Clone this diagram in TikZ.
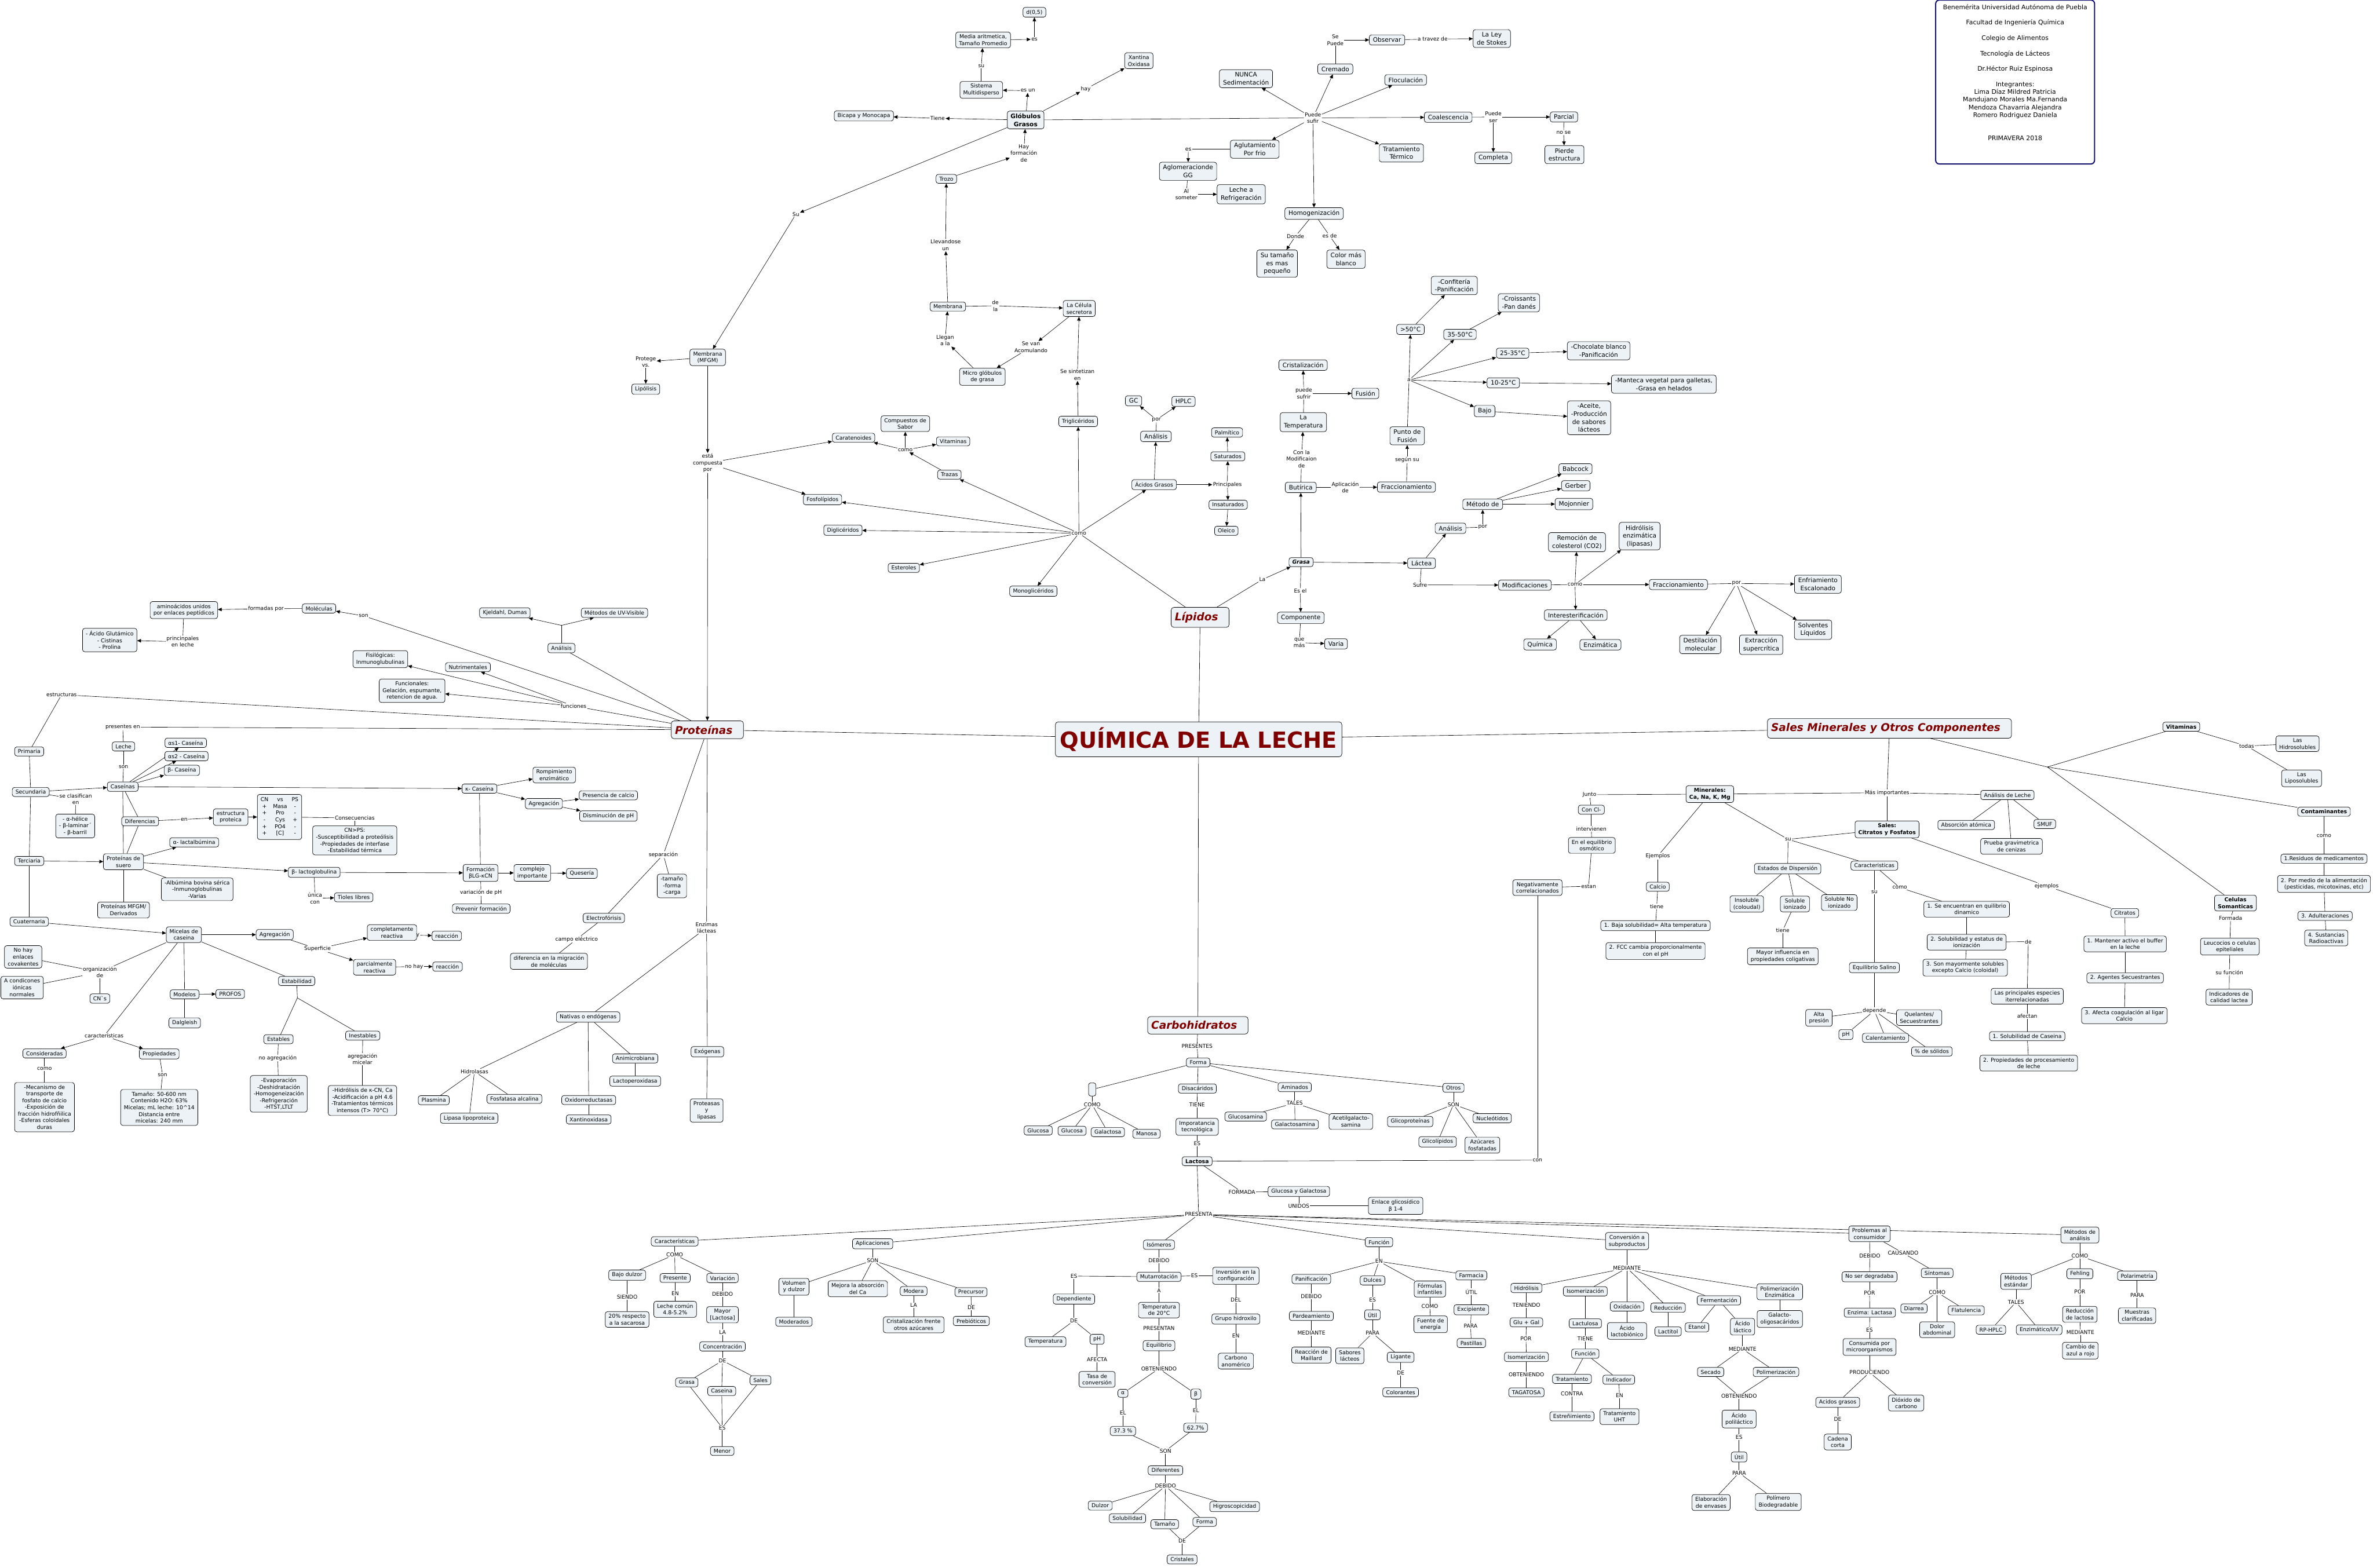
\documentclass[tikz,border=0pt]{standalone}
\usepackage{fontspec}
\setmainfont{DejaVu Sans}[ItalicFont={DejaVu Sans Oblique},BoldItalicFont={DejaVu Sans Bold Oblique}]
\usetikzlibrary{arrows.meta}
\definecolor{boxfill}{RGB}{236,242,245}
\definecolor{catred}{RGB}{128,0,0}
\definecolor{navyb}{RGB}{20,20,110}
\newcommand{\fsm}{\fontsize{5.9}{7.3}\selectfont}
\newcommand{\fmd}{\fontsize{6.7}{8.6}\selectfont}
\newcommand{\flb}{\fontsize{5.8}{7.2}\selectfont}
\newcommand{\fcat}{\fontsize{11.7}{14}\selectfont\bfseries\itshape}
\newcommand{\fttl}{\fontsize{24.3}{28}\selectfont\bfseries}
\newcommand{\finfo}{\fontsize{6.9}{8.4}\selectfont}
\pgfdeclarelayer{bg}
\pgfsetlayers{bg,main}

\begin{document}
\begin{tikzpicture}[
  x=1.6515pt,y=-1.6515pt,
  line width=0.45pt,
  cb/.style={draw, rounded corners=2.5pt, fill=boxfill, align=center,
    inner xsep=3.6pt, inner ysep=2.7pt, font=\fsm},
  cbm/.style={cb, font=\fmd, inner xsep=4pt, inner ysep=3pt},
  cbb/.style={cb, font=\fsm\bfseries},
  lb/.style={align=center, inner sep=0.6pt, font=\flb},
  cat/.style={draw, rounded corners=3pt, fill=boxfill, font=\fcat, text=catred,
    inner xsep=4pt, inner ysep=5pt, execute at end node=\hspace*{8pt}},
  ttl/.style={draw, rounded corners=3pt, fill=boxfill, font=\fttl, text=catred,
    inner xsep=5pt, inner ysep=6pt},
  ar/.style={-{Triangle[length=4.2pt,width=3.8pt]}}
]
\useasboundingbox (0,0) rectangle (1568,1036);

% centre and main branches
\node[ttl] (quim) at (792,488.6) {QUÍMICA DE LA LECHE};
\node[cat] (prot) at (467.4,482.3) {Proteínas};
\node[cat] (lip) at (793,408) {Lípidos};
\node[cat] (carb) at (791.5,677.6) {Carbohidratos};
\node[cat] (sales) at (1248.5,481.4) {Sales Minerales y Otros Componentes};

% info box
\node[draw=navyb, line width=1.3pt, rounded corners=4pt, minimum width=173.4pt,
  minimum height=178.9pt] (info) at (1331.5,54.2) {};
\node[font=\finfo, align=center, anchor=north, inner sep=0pt] (infotxt)
  at ([yshift=-5.2pt]info.north) {Benemérita Universidad Autónoma de Puebla\\[8.4pt]
  Facultad de Ingeniería Química\\[8.4pt] Colegio de Alimentos\\[8.4pt]
  Tecnología de Lácteos\\[8.4pt] Dr.Héctor Ruiz Espinosa\\[8.4pt]
  Integrantes:\\ Lima Díaz Mildred Patricia\\ Mandujano Morales Ma.Fernanda\\
  Mendoza Chavarria Alejandra\\ Romero Rodriguez Daniela\\[17.2pt] PRIMAVERA 2018};

% lipids: fat globules
\node[cb] (d05) at (683.5,8.1) {d(0,5)};
\node[cb] (media) at (649.6,26.4) {Media aritmetica,\\Tamaño Promedio};
\node[lb] (lEs1) at (683.5,26) {es};
\node[cb] (sistema) at (648.4,59.4) {Sistema\\Multidisperso};
\node[lb] (lSu1) at (648.4,43.8) {su};
\node[lb] (lEsun) at (679.2,59.9) {es un};
\node[cb, font=\fmd\bfseries] (glob) at (677.7,79.3) {Glóbulos\\Grasos};
\node[cb] (xantina) at (752.5,40.1) {Xantina\\Oxidasa};
\node[lb] (lHay) at (717.4,58.8) {hay};
\node[cb] (bicapa) at (570.8,76.6) {Bicapa y Monocapa};
\node[lb] (lTiene1) at (619.5,78.2) {Tiene};
\node[lb] (lHayf) at (676.5,101.3) {Hay\\formación\\de};
\node[cb] (trozo) at (625.3,118.2) {Trozo};
\node[lb] (lLlev) at (624.8,162) {Llevandose\\un};
\node[cb] (memb) at (626.3,202.6) {Membrana};
\node[cb] (celula) at (713.1,203.9) {La Célula\\secretora};
\node[lb] (lDela) at (657.7,202.1) {de\\la};
\node[cb] (micro) at (649.1,249) {Micro glóbulos\\de grasa};
\node[lb] (lLleg) at (624.5,225) {Llegan\\a la};
\node[lb] (lSevan) at (681.2,229.4) {Se van\\Acomulando};
\node[cb] (trigli) at (712.4,278.5) {Triglicéridos};
\node[lb] (lSesint) at (711.9,247.7) {Se sintetizan\\en};
\node[lb] (lSu2) at (525.9,141.6) {Su};
\node[cb] (mfgm) at (467.6,236.2) {Membrana\\(MFGM)};
\node[lb] (lProt) at (426.7,239.1) {Protege\\vs.};
\node[cb] (lipolisis) at (426.7,257.2) {Lipólisis};
\node[lb] (lComp) at (467.6,306) {está\\compuesta\\por};
\node[cb] (carat) at (564,289.3) {Caratenoides};
\node[cb] (fosfo) at (543.5,330.2) {Fosfolípidos};
\node[cb] (sabor) at (598.2,280) {Compuestos de\\Sabor};
\node[cb] (vitam1) at (629.8,291.7) {Vitaminas};
\node[lb] (lComo1) at (598.2,297.4) {como};
\node[cb] (trazas) at (627.3,313.7) {Trazas};
\node[cbm] (gc) at (749,264.9) {GC};
\node[cbm] (hplc) at (782,265.3) {HPLC};
\node[lb] (lPor1) at (764.1,277.4) {por};
\node[cbm] (anal1) at (763.8,288.4) {Análisis};
\node[cb] (acgr) at (762.6,320.3) {Ácidos Grasos};
\node[lb] (lComoL) at (712.9,352.4) {como};
\node[cb] (digli) at (557,350.4) {Diglicéridos};
\node[cb] (ester) at (597.2,375.3) {Esteroles};
\node[cb] (mono) at (682.8,390.7) {Monoglicéridos};

% lipids: instability
\node[lb] (lSep) at (882.3,26.4) {Se\\Puede};
\node[cbm] (cremado) at (882.3,45.6) {Cremado};
\node[cbm] (observar) at (916.5,26.4) {Observar};
\node[lb] (lAtrav) at (946.6,25.8) {a travez de};
\node[cbm] (stokes) at (985.7,25.5) {La Ley\\de Stokes};
\node[cbm] (nunca) at (823.3,52) {NUNCA\\Sedimentación};
\node[cbm] (flocul) at (928.8,52.8) {Floculación};
\node[lb] (lPsuf) at (867.5,77.9) {Puede\\sufir};
\node[cbm] (coal) at (956.9,77.5) {Coalescencia};
\node[lb] (lPser) at (986.7,77.3) {Puede\\ser};
\node[cbm] (parcial) at (1033.4,77.3) {Parcial};
\node[cbm] (completa) at (986.7,104.4) {Completa};
\node[lb] (lNose) at (1033.2,87.6) {no se};
\node[cbm] (pierde) at (1033.7,102.2) {Pierde\\estructura};
\node[cbm] (termico) at (926,101.1) {Tratamiento\\Térmico};
\node[cbm] (aglut) at (829.1,98.6) {Aglutamiento\\Por frio};
\node[lb] (lEs2) at (785.2,98.6) {es};
\node[cbm] (aglom) at (785,113.2) {Aglomeracionde\\GG};
\node[lb] (lAlsom) at (783.9,128.4) {Al\\someter};
\node[cbm] (refrig) at (820.1,128.4) {Leche a\\Refrigeración};
\node[cbm] (homog) at (868.3,141.1) {Homogenización};
\node[lb] (lDonde) at (856,156.1) {Donde};
\node[lb] (lEsde) at (878.6,155.9) {es de};
\node[cbm] (tamano) at (843.9,174.2) {Su tamaño\\es mas\\pequeño};
\node[cbm] (colorb) at (889.4,171.3) {Color más\\blanco};

% lipids: melting and fractions
\node[cbm] (confit) at (960.9,188.7) {-Confitería\\-Panificación};
\node[cbm] (croiss) at (1003.6,200.1) {-Croissants\\-Pan danés};
\node[cbm] (t50) at (932,217.7) {>50°C};
\node[cbm] (t3550) at (964.7,221) {35-50°C};
\node[cbm] (t2535) at (999.5,233.4) {25-35°C};
\node[cbm] (choco) at (1056.3,231.8) {-Chocolate blanco\\-Panificación};
\node[cbm] (t1025) at (993.3,253) {10-25°C};
\node[cbm] (manteca) at (1099.4,253.9) {-Manteca vegetal para galletas,\\-Grasa en helados};
\node[cbm] (bajo) at (981,271.7) {Bajo};
\node[cbm] (aceite) at (1050,276.1) {-Aceite,\\-Producción\\de sabores\\lácteos};
\node[lb] (lA) at (931,251.2) {a};
\node[cbm] (punto) at (929.8,288) {Punto de\\Fusión};
\node[lb] (lSegun) at (929.8,304) {según su};
\node[cbm] (fracc1) at (929.3,321.9) {Fraccionamiento};
\node[cbm] (cristal) at (861,241.3) {Cristalización};
\node[lb] (lPsufr) at (861.5,260) {puede\\sufrir};
\node[cbm] (fusion) at (902.2,260) {Fusión};
\node[cbm] (temp) at (861.2,279) {La\\Temperatura};
\node[lb] (lConla) at (860,303.4) {Con la\\Modificaion\\de};
\node[cbm] (butir) at (859.5,322.1) {Butírica};
\node[lb] (lAplic) at (888.9,322.1) {Aplicación\\de};
\node[cb] (palmit) at (810.8,285.8) {Palmítico};
\node[cb] (satur) at (811.3,301.6) {Saturados};
\node[lb] (lPrinc) at (811,320.3) {Principales};
\node[cb] (insat) at (811.5,333.6) {Insaturados};
\node[cb] (oleico) at (810.3,350.8) {Oleico};
\node[cbm] (metodo) at (979.7,333.3) {Método de};
\node[cbm] (babcock) at (1041,309.8) {Babcock};
\node[cbm] (gerber) at (1041.2,321) {Gerber};
\node[cbm] (mojon) at (1040,333.1) {Mojonnier};
\node[cbm] (anal2) at (958.4,349.1) {Análisis};
\node[lb] (lPor2) at (979.7,348.4) {por};
\node[cb, font=\fsm\bfseries\itshape] (grasa) at (859.7,371.5) {Grasa};
\node[cbm] (lactea) at (939.3,372.2) {Láctea};
\node[lb] (lLa) at (834.1,383) {La};
\node[lb] (lEsel) at (859.2,390.5) {Es el};
\node[cbm] (compon) at (859.5,408.3) {Componente};
\node[lb] (lQuemas) at (858.5,424.8) {que\\más};
\node[cbm] (varia) at (882.8,425.5) {Varia};
\node[lb] (lSufre) at (938.3,386.5) {Sufre};
\node[cbm] (modif) at (1007.6,386.7) {Modificaciones};
\node[lb] (lComo2) at (1040.7,386.3) {como};
\node[cbm] (remoc) at (1042,358.3) {Remoción de\\colesterol (CO2)};
\node[cbm] (hidrol) at (1083.4,354.3) {Hidrólisis\\enzimática\\(lipasas)};
\node[cbm] (fracc2) at (1109,386.3) {Fraccionamiento};
\node[cbm] (inter) at (1041.2,406.5) {Interesterificación};
\node[cbm] (quimi) at (1017.6,425.9) {Química};
\node[cbm] (enzim) at (1057.5,426.1) {Enzimática};
\node[lb] (lPor3) at (1147.4,385.6) {por};
\node[cbm] (destil) at (1123.5,425.9) {Destilación\\molecular};
\node[cbm] (extrac) at (1163.7,426.1) {Extracción\\supercrítica};
\node[cbm] (enfri) at (1201.2,386.1) {Enfriamiento\\Escalonado};
\node[cbm] (solv) at (1198,416.2) {Solventes\\Líquidos};

% salts and other components
\node[lb] (lJunto) at (1050.3,525.2) {Junto};
\node[cbb] (miner) at (1129.8,524.8) {Minerales:\\Ca, Na, K, Mg};
\node[cb] (concl) at (1051.5,535.1) {Con Cl-};
\node[lb] (lInterv) at (1051.5,547.7) {intervienen};
\node[cb] (osmot) at (1051.8,558.7) {En el equilibrio\\osmótico};
\node[lb] (lEstan) at (1049.7,585.7) {estan};
\node[cb] (negat) at (1015.9,586.6) {Negativamente\\correlacionados};
\node[lb] (lEjem) at (1095.4,565.7) {Ejemplos};
\node[cb] (calcio) at (1095.4,586) {Calcio};
\node[lb] (lTiene2) at (1094.7,599) {tiene};
\node[cb] (baja) at (1093.9,611.7) {1. Baja solubilidad= Alta temperatura};
\node[cb] (fcc) at (1093.9,628.5) {2. FCC cambia proporcionalmente\\con el pH};
\node[lb] (lSu3) at (1181.5,554.7) {su};
\node[cb] (estados) at (1181.2,574.1) {Estados de Dispersión};
\node[cb] (insol) at (1154.2,597.4) {Insoluble\\(coloudal)};
\node[cb] (solion) at (1186,597.4) {Soluble\\ionizado};
\node[cb] (solno) at (1215.3,596.5) {Soluble No\\ionizado};
\node[lb] (lTiene3) at (1178,614.8) {tiene};
\node[cb] (mayorinf) at (1178,632) {Mayor influencia en\\propiedades coligativas};
\node[cbb] (vitam2) at (1441.3,480.3) {Vitaminas};
\node[lb] (lTodas) at (1484.5,493) {todas};
\node[cb] (hidros) at (1518.1,491.5) {Las\\Hidrosolubles};
\node[cb] (liposol) at (1520.8,514.4) {Las\\Liposolubles};
\coordinate (hubS) at (1352.8,506.9);
\node[cbb] (contam) at (1535.6,536.4) {Contaminantes};
\node[lb] (lComo3) at (1535.6,552.5) {como};
\node[cb] (resid) at (1535.6,567.5) {1.Residuos de medicamentos};
\node[cb] (alim) at (1535.6,584.2) {2. Por medio de la alimentación\\(pesticidas, micotoxinas, etc)};
\node[cb] (adult) at (1536.3,605.3) {3. Adulteraciones};
\node[cb] (radio) at (1537.1,619.9) {4. Sustancias\\Radioactivas};
\node[cbb] (celul) at (1477.1,596.8) {Celulas\\Somanticas};
\node[lb] (lFormada) at (1473.9,606.7) {Formada};
\node[cb] (leuco) at (1473.4,625.6) {Leucocios o celulas\\epiteliales};
\node[lb] (lSufunc) at (1473.1,642.5) {su función};
\node[cb] (indic) at (1472.9,659) {Indicadores de\\calidad lactea};
\node[lb] (lMasimp) at (1246.9,523.9) {Más importantes};
\node[cb] (analech) at (1326.4,525.4) {Análisis de Leche};
\node[cb] (absor) at (1299.2,545.2) {Absorción atómica};
\node[cb] (smuf) at (1351.1,544.6) {SMUF};
\node[cb] (prueba) at (1329.1,559.3) {Prueba gravimetrica\\de cenizas};
\node[cbb] (salescf) at (1246.9,548.1) {Sales:\\Citratos y Fosfatos};
\node[cb] (caract2) at (1238.5,572.1) {Caracteristicas};
\node[lb] (lSu4) at (1238.5,589.5) {su};
\node[cb] (eqsal) at (1238.5,639.5) {Equilibrio Salino};
\node[lb] (lComo4) at (1255.3,586.6) {como};
\node[cb] (seenc) at (1299.5,600.9) {1. Se encuentran en quilibrio\\dinamico};
\node[cb] (solest) at (1299.5,622.7) {2. Solubilidad y estatus de\\ionización};
\node[cb] (sonmay) at (1298.5,639.5) {3. Son mayormente solubles\\excepto Calcio (coloidal)};
\node[lb] (lDe1) at (1340.2,622.3) {de};
\node[cb] (princ) at (1339.5,658.4) {Las principales especies\\iterrelacionadas};
\node[lb] (lAfectan) at (1339.5,671.6) {afectan};
\node[cb] (solcas) at (1339.5,684.8) {1. Solubilidad de Caseina};
\node[cb] (propproc) at (1340.5,702.6) {2. Propiedades de procesamiento\\de leche};
\node[lb] (lEjem2) at (1352.3,585.5) {ejemplos};
\node[cb] (citr) at (1404,603.4) {Citratos};
\node[cb] (mant) at (1404.2,623.8) {1. Mantener activo el buffer\\en la leche};
\node[cb] (agent) at (1404.2,646.3) {2. Agentes Secuestrantes};
\node[cb] (afect) at (1403.7,671.2) {3. Afecta coagulación al ligar\\Calcio};
\node[lb] (lDepende) at (1238.5,667.9) {depende};
\node[cb] (alta) at (1201.9,672.7) {Alta\\presión};
\node[cb] (ph1) at (1219.7,683.7) {pH};
\node[cb] (calent) at (1245.9,685.9) {Calentamiento};
\node[cb] (quel) at (1268.1,672.5) {Quelantes/\\Secuestrantes};
\node[cb] (solid) at (1276.5,694.9) {\% de sólidos};

% carbohydrates
\node[lb] (lPresentes) at (791,691.4) {PRESENTES};
\node[cb] (forma) at (791.7,702.2) {Forma};
\node[cb, minimum width=8pt, minimum height=14.5pt, inner sep=0pt] (mono0) at (721.7,720) {};
\node[lb] (lComo5) at (721.7,730.1) {COMO};
\node[cb] (gluc1) at (686,747.1) {Glucosa};
\node[cb] (gluc2) at (708.4,747.3) {Glucosa};
\node[cb] (galac) at (732,748.2) {Galactosa};
\node[cb] (manosa) at (757.6,749.3) {Manosa};
\node[cb] (disac) at (791.2,719.4) {Disacáridos};
\node[lb] (lTiene4) at (791,730) {TIENE};
\node[cb] (import) at (791,744.7) {Imporatancia\\tecnológica};
\node[lb] (lEs3) at (791,755.9) {ES};
\node[cbb] (lactosa) at (791,767.4) {Lactosa};
\node[cb] (amin) at (855.5,718.5) {Aminados};
\node[lb] (lTales1) at (855.5,729) {TALES};
\node[cb] (glcsam) at (823.1,737.9) {Glucosamina};
\node[cb] (galsam) at (855.7,743.1) {Galactosamina};
\node[cb] (acetil) at (892.6,741.2) {Acetilgalacto-\\samina};
\node[cb] (otros) at (960.4,718.9) {Otros};
\node[lb] (lSon1) at (960.4,729.9) {SON};
\node[cb] (glicop) at (931.8,741.2) {Glicoproteínas};
\node[cb] (nucleo) at (986,739) {Nucleótidos};
\node[cb] (glicol) at (949.9,754.6) {Glicolípidos};
\node[cb] (azuc) at (979.5,756.8) {Azúcares\\fosfatadas};
\node[lb] (lCon) at (1015.9,766.7) {con};
\node[lb] (lFormada2) at (820.6,787.8) {FORMADA};
\node[cb] (glugalac) at (858.2,787.4) {Glucosa y Galactosa};
\node[lb] (lUnidos) at (858.2,796.9) {UNIDOS};
\node[cb] (enlace) at (922.2,796.9) {Enlace glicosídico\\β 1-4};
\node[lb] (lPresenta) at (792,802.6) {PRESENTA};
\node[cb] (caract3) at (445.8,820.4) {Características};
\node[lb] (lComo6) at (445.8,829.2) {COMO};
\node[cb] (bajod) at (414.4,842.7) {Bajo dulzor};
\node[cb] (presente) at (446.1,844.6) {Presente};
\node[cb] (variac) at (477.4,844.6) {Variación};
\node[lb] (lSiendo) at (414.4,857) {SIENDO};
\node[cb] (sacar) at (414.4,872) {20\% respecto\\a la sacarosa};
\node[lb] (lEn1) at (446.1,854.8) {EN};
\node[cb] (lechec) at (446.1,865.3) {Leche común\\4.8-5.2\%};
\node[lb] (lDebido1) at (477.4,855.2) {DEBIDO};
\node[cb] (mayorl) at (477.4,868.9) {Mayor\\{[Lactosa]}};
\node[lb] (lLa1) at (477.4,880.5) {LA};
\node[cb] (concent) at (477.4,889.8) {Concentración};
\node[lb] (lDe2) at (477.4,899.2) {DE};
\node[cb] (grasa2) at (453.8,913.6) {Grasa};
\node[cb] (caseina2) at (476.9,919.3) {Caseina};
\node[cb] (sales2) at (502.5,912.2) {Sales};
\node[lb] (lEs4) at (477.2,943.5) {ES};
\node[cb] (menor) at (477.2,958.9) {Menor};
\node[cb] (aplic) at (576.6,822) {Aplicaciones};
\node[lb] (lSon2) at (576.6,833) {SON};
\node[cb] (volum) at (524.6,850.4) {Volumen\\y dulzor};
\node[cb] (mejora) at (566.8,851.7) {Mejora la absorción\\del Ca};
\node[cb] (modera) at (603.7,853.2) {Modera};
\node[cb] (precur) at (641.6,853.9) {Precursor};
\node[cb] (moder) at (524.6,873.5) {Moderados};
\node[lb] (lLa2) at (603.7,862.7) {LA};
\node[cb] (cristal2) at (603.7,875.5) {Cristalización frente\\otros azúcares};
\node[lb] (lDe3) at (641.8,864.2) {DE};
\node[cb] (prebio) at (641.8,873) {Prebióticos};
\node[cb] (isom) at (765.8,822.6) {Isómeros};
\node[lb] (lDebido2) at (765.8,833) {DEBIDO};
\node[cb] (mutarr) at (765.8,843.8) {Mutarrotación};
\node[lb] (lEs5) at (709.6,843.3) {ES};
\node[cb] (depend) at (709.6,858.5) {Dependiente};
\node[lb] (lDe4) at (709.6,872.8) {DE};
\node[cb] (temp2) at (690.8,886.7) {Temperatura};
\node[cb] (ph2) at (724.9,885.1) {pH};
\node[lb] (lAfecta) at (724.9,898.4) {AFECTA};
\node[cb] (tasa) at (724.9,911.6) {Tasa de\\conversión};
\node[lb] (lA2) at (765.8,852.8) {A};
\node[cb] (temp20) at (765.8,865.8) {Temperatura\\de 20°C};
\node[lb] (lPresentan) at (765.8,877.7) {PRESENTAN};
\node[cb] (equil2) at (765.8,889.3) {Equilibrio};
\node[lb] (lObt1) at (765.8,904.5) {OBTENIENDO};
\node[cb] (alpha) at (742,920.8) {α};
\node[lb] (lEl1) at (742,933.8) {EL};
\node[cb] (p373) at (742,945.7) {37.3 \%};
\node[cb] (beta) at (790.2,921.3) {β};
\node[lb] (lEl2) at (790.2,932.3) {EL};
\node[cb] (p627) at (790,943.5) {62.7\%};
\node[lb] (lSon3) at (770.1,958.9) {SON};
\node[cb] (difer) at (770.1,971.7) {Diferentes};
\node[lb] (lDebido3) at (770.1,982) {DEBIDO};
\node[cb] (dulzor) at (727,995) {Dulzor};
\node[cb] (solub) at (745,1003.4) {Solubilidad};
\node[cb] (tamano2) at (769.6,1007.3) {Tamaño};
\node[cb] (higros) at (815.8,995.7) {Higroscopicidad};
\node[cb] (forma2) at (796,1005.8) {Forma};
\node[lb] (lDe5) at (781.1,1018.3) {DE};
\node[cb] (cristales) at (781.1,1030.6) {Cristales};
\node[lb] (lEs6) at (789.2,843.1) {ES};
\node[cb] (invers) at (816.6,843.1) {Inversión en la\\configuración};
\node[lb] (lDel) at (816.6,859.2) {DEL};
\node[cb] (grupoh) at (816.6,871.7) {Grupo hidroxilo};
\node[lb] (lEn2) at (816.6,883) {EN};
\node[cb] (carbono) at (816.6,899.5) {Carbono\\anomérico};
\node[cb] (funcion) at (911.2,820.9) {Función};
\node[lb] (lEn3) at (911.2,833.6) {EN};
\node[cb] (panif) at (866.5,845.3) {Panificación};
\node[cb] (dulces) at (906.9,846.2) {Dulces};
\node[cb] (formul) at (944.8,851.9) {Fórmulas\\infantiles};
\node[cb] (farmac) at (972.2,842.9) {Farmacia};
\node[lb] (lDebido4) at (866.5,856.7) {DEBIDO};
\node[cb] (pardea) at (866.5,869.7) {Pardeamiento};
\node[lb] (lMed1) at (866.5,881) {MEDIANTE};
\node[cb] (maillard) at (866.5,895.5) {Reacción de\\Maillard};
\node[lb] (lEs7) at (906.9,859) {ES};
\node[cb] (util1) at (906.9,868.9) {Útil};
\node[lb] (lPara1) at (906.9,881) {PARA};
\node[cb] (sabores) at (891.9,896) {Sabores\\lácteos};
\node[cb] (ligante) at (925.5,897) {Ligante};
\node[lb] (lDe6) at (925.5,907.2) {DE};
\node[cb] (colorant) at (925.5,920.1) {Colorantes};
\node[lb] (lComo7) at (944.8,863.4) {COMO};
\node[cb] (fuente) at (945.3,875.2) {Fuente de\\energía};
\node[lb] (lUtil) at (972.2,853.7) {ÚTIL};
\node[cb] (excip) at (972.2,865.6) {Excipiente};
\node[lb] (lPara2) at (971.7,876.3) {PARA};
\node[cb] (pastill) at (972.2,887.6) {Pastillas};
\node[cb] (conv) at (1075.1,820.2) {Conversión a\\subproductos};
\node[lb] (lMed2) at (1075.1,838) {MEDIANTE};
\node[cb] (hidrol2) at (1008.6,851.2) {Hidrólisis};
\node[cb] (isomer1) at (1047.5,853.4) {Isomerización};
\node[cb] (oxid) at (1075.1,863.4) {Oxidación};
\node[cb] (reduc) at (1102.2,864.2) {Reducción};
\node[cb] (ferment) at (1135.8,859.4) {Fermentación};
\node[cb] (polienz) at (1176,853.7) {Polimerización\\Enzimática};
\node[cb] (galoli) at (1176,871.7) {Galacto-\\oligosacáridos};
\node[lb] (lTeniendo) at (1008.6,862.5) {TENIENDO};
\node[cb] (glugal) at (1008.6,873.9) {Glu + Gal};
\node[lb] (lPor4) at (1008.3,884.9) {POR};
\node[cb] (isomer2) at (1008.6,896.8) {Isomerización};
\node[lb] (lObt2) at (1008.6,908.3) {OBTENIENDO};
\node[cb] (tagat) at (1008.6,920.2) {TAGATOSA};
\node[cb] (lactul) at (1047.5,874.6) {Lactulosa};
\node[lb] (lTiene5) at (1047.5,884.7) {TIENE};
\node[cb] (funcion2) at (1047.5,894.6) {Función};
\node[cb] (tratam2) at (1038.7,911.3) {Tratamiento};
\node[lb] (lContra) at (1038.7,921) {CONTRA};
\node[cb] (estren) at (1038.7,936) {Estreñimiento};
\node[cb] (indicad) at (1069.6,911.8) {Indicador};
\node[lb] (lEn4) at (1070.1,922.4) {EN};
\node[cb] (uht) at (1070.1,936.2) {Tratamiento\\UHT};
\node[cb] (aclacto) at (1075.1,879.6) {Ácido\\lactobiónico};
\node[cb] (lactitol) at (1102.2,879.9) {Lactitol};
\node[cb] (etanol) at (1121.3,877.2) {Etanol};
\node[cb] (aclact) at (1151.4,876.8) {Ácido\\láctico};
\node[lb] (lMed3) at (1151.4,891.5) {MEDIANTE};
\node[cb] (secado) at (1130.3,906.7) {Secado};
\node[cb] (polimer) at (1173.5,906.7) {Polimerización};
\node[lb] (lObt3) at (1149.1,922.6) {OBTENIENDO};
\node[cb] (acpoli) at (1149.1,937.8) {Ácido\\poliláctico};
\node[lb] (lEs8) at (1149.1,949.7) {ES};
\node[cb] (util2) at (1149.1,962.9) {Útil};
\node[lb] (lPara3) at (1149.1,973.4) {PARA};
\node[cb] (elabor) at (1130.6,993) {Elaboración\\de envases};
\node[cb] (polimero) at (1175,992.6) {Polímero\\Biodegradable};
\node[cb] (problem) at (1235.3,815.4) {Problemas al\\consumidor};
\node[lb] (lDebido5) at (1235.5,829.9) {DEBIDO};
\node[lb] (lCausando) at (1257.5,828.1) {CAUSANDO};
\node[cb] (noser) at (1235.3,843.8) {No ser degradaba};
\node[lb] (lPor5) at (1235.3,854.5) {POR};
\node[cb] (enzlact) at (1235.5,867.5) {Enzima: Lactasa};
\node[lb] (lEs9) at (1235.3,878.8) {ES};
\node[cb] (consum) at (1235.3,890.2) {Consumida por\\microorganismos};
\node[lb] (lProduc) at (1235.3,907) {PRODUCIENDO};
\node[cb] (acgr2) at (1214.3,926.8) {Acidos grasos};
\node[cb] (dioxido) at (1259.5,927.2) {Dióxido de\\carbono};
\node[lb] (lDe7) at (1214.3,937.8) {DE};
\node[cb] (cadena) at (1214.3,953) {Cadena\\corta};
\node[cb] (sintom) at (1280,841.3) {Síntomas};
\node[lb] (lComo8) at (1280,854.1) {COMO};
\node[cb] (diarrea) at (1264.7,864.7) {Diarrea};
\node[cb] (flatul) at (1299.2,866) {Flatulencia};
\node[cb] (dolor) at (1280,878.8) {Dolor\\abdominal};
\node[cb] (metan) at (1374.3,816.2) {Métodos de\\análisis};
\node[lb] (lComo9) at (1374.3,830.1) {COMO};
\node[cb] (metest) at (1332.1,846.8) {Métodos\\estándar};
\node[lb] (lTales2) at (1332.1,860.5) {TALES};
\node[cb] (rphplc) at (1315.5,878.8) {RP-HPLC};
\node[cb] (enzuv) at (1347.4,878.8) {Enzimático/UV};
\node[cb] (fehling) at (1374.3,841.8) {Fehling};
\node[lb] (lPor6) at (1374.3,853.7) {POR};
\node[cb] (reduclac) at (1374.3,868.6) {Reducción\\de lactosa};
\node[lb] (lMed4) at (1374.6,880.5) {MEDIANTE};
\node[cb] (cambio) at (1374.6,892.6) {Cambio de\\azul a rojo};
\node[cb] (polari) at (1412.1,843.1) {Polarimetría};
\node[lb] (lPara4) at (1412.1,856.1) {PARA};
\node[cb] (muestras) at (1412.1,869.5) {Muestras\\clarificadas};

% proteins
\node[cb] (molec) at (210.8,402.1) {Moléculas};
\node[lb] (lFormadas) at (175.7,402.3) {formadas por};
\node[cb] (aminoac) at (121.5,403.2) {aminoácidos unidos\\por enlaces peptídicos};
\node[lb] (lSon4) at (240.2,407) {son};
\node[lb] (lPrinc2) at (120.7,424.1) {princinpales\\en leche};
\node[cb] (acglut) at (72.5,423) {- Ácido Glutámico\\- Cistinas\\- Prolina};
\node[cb] (kjeld) at (333.6,405) {Kjeldahl, Dumas};
\node[cb] (metuv) at (406,405) {Métodos de UV-Visible};
\coordinate (hubA) at (371,413.3);
\node[cb] (anal3) at (371,428.3) {Análisis};
\node[cb] (fisiol) at (251.3,435.6) {Fisilógicas:\\Inmunoglubulinas};
\node[cb] (nutrim) at (309.2,440.9) {Nutrimentales};
\node[cb] (funcnl) at (272.3,456.5) {Funcionales:\\Gelación, espumante,\\retencion de agua.};
\node[lb] (lFunc) at (379,466.6) {funciones};
\node[lb] (lEstruct) at (40.7,459.1) {estructuras};
\node[cb] (primaria) at (19.3,496.6) {Primaria};
\node[lb] (lPresentes2) at (81.1,480.5) {presentes en};
\node[cb] (leche1) at (81.6,493.3) {Leche};
\node[lb] (lSon5) at (81.6,506.7) {son};
\node[cb] (caseinas) at (81.1,519.9) {Caseínas};
\node[cb] (as1) at (122.7,490.9) {αs1- Caseína};
\node[cb] (as2) at (123.2,499.7) {αs2 - Caseína};
\node[cb] (bcas) at (120.2,509.1) {β- Caseína};
\node[cb] (secund) at (20.3,523.4) {Secundaria};
\node[lb] (lClasif) at (50,528) {se clasifican\\en};
\node[cb] (helices) at (49.7,545.9) {- α-hélice\\- β-laminar´\\- β-barril};
\node[cb] (diferp) at (92.6,542.8) {Diferencias};
\node[lb] (lEn5) at (121.7,541.5) {en};
\node[cb] (estprot) at (152.4,540) {estructura\\proteica};
\node[cb] (tabla) at (184.7,539.9) {\begin{tabular}{@{}c@{\hspace{5pt}}c@{\hspace{5pt}}c@{}}
  CN & vs & PS\\ + & Masa & -\\ + & Pro & -\\ - & Cys & +\\ + & PO4 & -\\ + & [C] & -\end{tabular}};
\node[lb] (lConsec) at (234.4,540.6) {Consecuencias};
\node[cb] (cnps) at (234.4,555.4) {CN>PS:\\-Susceptibilidad a proteólisis\\-Propiedades de interfase\\-Estabilidad térmica};
\node[cb] (kcas) at (316.8,521.2) {κ- Caseína};
\node[cb] (rompim) at (366.2,512.2) {Rompimiento\\enzimático};
\node[cb] (agreg1) at (359.4,531.1) {Agregación};
\node[cb] (presenc) at (402,525.6) {Presencia de calcio};
\node[cb] (dismin) at (402,539.3) {Disminución de pH};
\node[cb] (terciaria) at (19.3,569) {Terciaria};
\node[cb] (suero) at (81.6,569.5) {Proteínas de\\suero};
\node[cb] (alact) at (128.3,556.7) {α- lactalbúmina};
\node[cb] (albumina) at (130.3,587.7) {-Albúmina bovina sérica\\-Inmunoglobulinas\\-Varias};
\node[cb] (blg) at (207.6,576.5) {β- lactoglobulina};
\node[lb] (lUnica) at (208.1,593.7) {única\\con};
\node[cb] (tioles) at (233.7,593) {Tioles libres};
\node[cb] (formac) at (317.5,576.9) {Formación\\βLG-κCN};
\node[cb] (complejo) at (351.7,576.9) {complejo\\importante};
\node[cb] (queseria) at (384.5,577.2) {Quesería};
\node[lb] (lVarph) at (317.8,590) {variación de pH};
\node[cb] (prevenir) at (318,600.5) {Prevenir formación};
\node[cb] (mfgmder) at (81.6,601.4) {Proteínas MFGM/\\Derivados};
\node[cb] (cuatern) at (19.3,609.1) {Cuaternaria};
\node[cb] (micelas) at (121.5,617.7) {Micelas de\\caseina};
\node[cb] (agreg2) at (181.5,617.7) {Agregación};
\node[lb] (lSuperf) at (209.8,627.1) {Superficie};
\node[cb] (complet) at (259,616.3) {completamente\\reactiva};
\node[lb] (lY) at (276.1,618.1) {y};
\node[cb] (reacc1) at (295.2,618.5) {reacción};
\node[cb] (parcialm) at (247.5,639.2) {parcialmente\\reactiva};
\node[lb] (lNohay) at (273.6,638.8) {no hay};
\node[cb] (reacc2) at (295.7,638.8) {reacción};
\node[cb] (nohay) at (15.3,632.4) {No hay\\enlaces\\covakentes};
\node[cb] (condic) at (14.6,652.7) {A condicones\\iónicas\\normales};
\node[lb] (lOrganiz) at (66,642.5) {organización\\de};
\node[cb] (cns) at (66,659.9) {CN\textasciigrave s};
\node[cb] (modelos) at (122,657.1) {Modelos};
\node[cb] (profos) at (152.1,656.9) {PROFOS};
\node[cb] (dalgl) at (122,676) {Dalgleish};
\node[cb] (estab) at (196,648.3) {Estabilidad};
\coordinate (hubE) at (196.5,659.5);
\node[cb] (estables) at (184,686.8) {Estables};
\node[cb] (inestab) at (239.7,684.4) {Inestables};
\node[lb] (lCaract) at (68.8,684.6) {características};
\node[cb] (consid) at (29.4,696.2) {Consideradas};
\node[lb] (lComo10) at (29.4,706.2) {como};
\node[cb] (mecan) at (29.4,731.7) {-Mecanismo de\\transporte de\\fosfato de calcio\\-Exposición de\\fracción hidrofñilica\\-Esferas coloidales\\duras};
\node[cb] (propied) at (105.2,696.5) {Propiedades};
\node[lb] (lSon6) at (107.4,710.3) {son};
\node[cb] (tamanomic) at (105.2,731.9) {Tamaño: 50-600 nm\\Contenido H2O: 63\%\\Micelas; mL leche: 10\textasciicircum 14\\Distancia entre\\micelas: 240 mm};
\node[lb] (lNoagreg) at (183.5,699.3) {no agregación};
\node[cb] (evapor) at (184.2,722.9) {-Evaporación\\-Deshidratación\\-Homogeneización\\-Refrigeración\\-HTST,LTLT};
\node[lb] (lAgregmic) at (239.5,700) {agregación\\micelar};
\node[cb] (hidrolk) at (239.5,727.3) {-Hidrólisis de κ-CN, Ca\\-Acidificación a pH 4.6\\-Tratamientos térmicos\\intensos (T> 70°C)};
\node[lb] (lSepar) at (438.3,564.8) {separación};
\node[cb] (tamforma) at (444,585.5) {-tamaño\\-forma\\-carga};
\node[cb] (electro) at (399,606.7) {Electrofórisis};
\node[lb] (lCampo) at (381,620.7) {campo eléctrico};
\node[cb] (difmig) at (362.7,635.3) {diferencia en la migración\\de moléculas};
\node[lb] (lEnzimas) at (466.9,613.1) {Enzimas\\lácteas};
\node[cb] (nativas) at (388.6,672.1) {Nativas o endógenas};
\node[cb] (exog) at (467.4,695.1) {Exógenas};
\node[cb] (proteasas) at (466.9,733.9) {Proteasas\\y\\lipasas};
\node[lb] (lHidrol) at (313.5,708.1) {Hidrolasas};
\node[cb] (plasmina) at (286.6,727.1) {Plasmina};
\node[cb] (fosfat) at (339.9,726.2) {Fosfatasa alcalina};
\node[cb] (lipasa) at (310,739) {Lipasa lipoproteica};
\node[cb] (oxidor) at (389,727) {Oxidorreductasas};
\node[cb] (xantinox) at (389,739.8) {Xantinoxidasa};
\node[cb] (animic) at (419.7,699.5) {Animicrobiana};
\node[cb] (lactoper) at (419.7,714.5) {Lactoperoxidasa};

% connectors
\begin{pgfonlayer}{bg}
% arrows
\foreach \a/\b in {media/lEs1, lEs1/d05, lSu1/media, glob/lEsun, lEsun/sistema,
  glob/lHay, lHay/xantina, glob/lTiene1, lTiene1/bicapa, trozo/lHayf, lHayf/glob,
  memb/lLlev, lLlev/trozo, lDela/celula, micro/lLleg, lLleg/memb, celula/lSevan,
  lSevan/micro, trigli/lSesint, lSesint/celula, glob/lSu2, lSu2/mfgm, mfgm/lProt,
  lProt/lipolisis, mfgm/lComp, lComp/prot, lComp/carat, lComp/fosfo, trazas/lComo1,
  lComo1/carat, lComo1/sabor, lComo1/vitam1, lPor1/gc, lPor1/hplc, acgr/anal1,
  lComoL/fosfo, lComoL/trazas, lComoL/trigli, lComoL/acgr, lComoL/digli,
  lComoL/ester, lComoL/mono}
  \draw[ar] (\a) -- (\b);
\foreach \a/\b in {lSep/observar, lAtrav/stokes, lPsuf/nunca, lPsuf/cremado,
  lPsuf/flocul, lPsuf/coal, lPsuf/termico, lPsuf/aglut, lPsuf/homog, lPser/parcial,
  lPser/completa, lNose/pierde, lEs2/aglom, lAlsom/refrig, lDonde/tamano,
  lEsde/colorb, lA/t50, lA/t3550, lA/t2535, lA/t1025, lA/bajo, t50/confit,
  t3550/croiss, t2535/choco, t1025/manteca, bajo/aceite, lSegun/punto,
  lPsufr/cristal, lPsufr/fusion, lConla/temp, lAplic/fracc1, grasa/butir,
  acgr/lPrinc, lPrinc/satur, lPrinc/insat, satur/palmit, insat/oleico,
  metodo/babcock, metodo/gerber, metodo/mojon, lPor2/metodo, lactea/anal2,
  grasa/lactea, lLa/grasa, lEsel/compon, lQuemas/varia, lSufre/modif,
  lComo2/remoc, lComo2/hidrol, lComo2/fracc2, lComo2/inter, inter/quimi,
  inter/enzim, lPor3/destil, lPor3/extrac, lPor3/enfri, lPor3/solv}
  \draw[ar] (\a) -- (\b);
\foreach \a/\b in {lSon4/molec, lFormadas/aminoac, lPrinc2/acglut, hubA/kjeld,
  hubA/metuv, lFunc/fisiol, lFunc/nutrim, lFunc/funcnl, secund/caseinas,
  caseinas/as1, caseinas/as2, caseinas/bcas, caseinas/kcas, lEn5/estprot,
  estprot/tabla, terciaria/suero, suero/alact, suero/blg, blg/formac,
  lUnica/tioles, kcas/rompim, kcas/agreg1, agreg1/presenc, agreg1/dismin,
  formac/complejo, complejo/queseria, cuatern/micelas, micelas/agreg2,
  lSuperf/complet, lSuperf/parcialm, lY/reacc1, lNohay/reacc2, modelos/profos,
  lCaract/consid, lCaract/propied}
  \draw[ar] (\a) -- (\b);
% plain lines
\foreach \a/\b in {sistema/lSu1, memb/lDela, anal1/lPor1, lip/lComoL,
  cremado/lSep, observar/lAtrav, glob/lPsuf, coal/lPser, parcial/lNose,
  aglut/lEs2, aglom/lAlsom, homog/lDonde, homog/lEsde, punto/lA, fracc1/lSegun,
  temp/lPsufr, butir/lConla, butir/lAplic, anal2/lPor2, lip/lLa, grasa/lEsel,
  compon/lQuemas, lactea/lSufre, modif/lComo2, fracc2/lPor3,
  prot/quim, quim/lip, quim/carb, quim/sales}
  \draw (\a) -- (\b);
\foreach \a/\b in {sales/lMasimp, lMasimp/miner, lMasimp/analech, lMasimp/salescf,
  sales/hubS, hubS/vitam2, hubS/contam, hubS/celul, vitam2/lTodas, lTodas/hidros,
  lTodas/liposol, contam/lComo3, lComo3/resid, resid/alim, alim/adult, adult/radio,
  celul/lFormada, lFormada/leuco, leuco/lSufunc, lSufunc/indic, analech/absor,
  analech/prueba, analech/smuf, miner/lJunto, lJunto/concl, concl/lInterv,
  lInterv/osmot, osmot/lEstan, lEstan/negat, negat/lCon, lactosa/lCon,
  miner/lEjem, lEjem/calcio, calcio/lTiene2, lTiene2/baja, baja/fcc,
  miner/lSu3, salescf/lSu3, lSu3/estados, lSu3/caract2, estados/insol,
  estados/solion, estados/solno, solion/lTiene3, lTiene3/mayorinf,
  caract2/lSu4, lSu4/eqsal, caract2/lComo4, lComo4/seenc, seenc/solest,
  solest/sonmay, solest/lDe1, lDe1/princ, princ/lAfectan, lAfectan/solcas,
  solcas/propproc, salescf/lEjem2, lEjem2/citr, citr/mant, mant/agent,
  agent/afect, eqsal/lDepende, lDepende/alta, lDepende/ph1, lDepende/calent,
  lDepende/quel, lDepende/solid}
  \draw (\a) -- (\b);
\foreach \a/\b in {carb/lPresentes, lPresentes/forma, forma/mono0, forma/disac,
  forma/amin, forma/otros, mono0/lComo5, lComo5/gluc1, lComo5/gluc2,
  lComo5/galac, lComo5/manosa, disac/lTiene4, lTiene4/import, import/lEs3,
  lEs3/lactosa, amin/lTales1, lTales1/glcsam, lTales1/galsam, lTales1/acetil,
  otros/lSon1, lSon1/glicop, lSon1/glicol, lSon1/azuc, lSon1/nucleo,
  lactosa/lFormada2, lFormada2/glugalac, glugalac/lUnidos, lUnidos/enlace,
  lactosa/lPresenta, lPresenta/caract3, lPresenta/aplic, lPresenta/isom,
  lPresenta/funcion, lPresenta/conv, lPresenta/problem, lPresenta/metan,
  caract3/lComo6, lComo6/bajod, lComo6/presente, lComo6/variac, bajod/lSiendo,
  lSiendo/sacar, presente/lEn1, lEn1/lechec, variac/lDebido1, lDebido1/mayorl,
  mayorl/lLa1, lLa1/concent, concent/lDe2, lDe2/grasa2, lDe2/caseina2,
  lDe2/sales2, grasa2/lEs4, caseina2/lEs4, sales2/lEs4, lEs4/menor,
  aplic/lSon2, lSon2/volum, lSon2/mejora, lSon2/modera, lSon2/precur,
  volum/moder, modera/lLa2, lLa2/cristal2, precur/lDe3, lDe3/prebio}
  \draw (\a) -- (\b);
\foreach \a/\b in {isom/lDebido2, lDebido2/mutarr, mutarr/lEs5, lEs5/depend,
  depend/lDe4, lDe4/temp2, lDe4/ph2, ph2/lAfecta, lAfecta/tasa, mutarr/lEs6,
  lEs6/invers, invers/lDel, lDel/grupoh, grupoh/lEn2, lEn2/carbono,
  mutarr/lA2, lA2/temp20, temp20/lPresentan, lPresentan/equil2, equil2/lObt1,
  lObt1/alpha, lObt1/beta, alpha/lEl1, lEl1/p373, beta/lEl2, lEl2/p627,
  p373/lSon3, p627/lSon3, lSon3/difer, difer/lDebido3, lDebido3/dulzor,
  lDebido3/solub, lDebido3/tamano2, lDebido3/higros, lDebido3/forma2,
  tamano2/lDe5, forma2/lDe5, lDe5/cristales,
  funcion/lEn3, lEn3/panif, lEn3/dulces, lEn3/formul, lEn3/farmac,
  panif/lDebido4, lDebido4/pardea, pardea/lMed1, lMed1/maillard, dulces/lEs7,
  lEs7/util1, util1/lPara1, lPara1/sabores, lPara1/ligante, ligante/lDe6,
  lDe6/colorant, formul/lComo7, lComo7/fuente, farmac/lUtil, lUtil/excip,
  excip/lPara2, lPara2/pastill}
  \draw (\a) -- (\b);
\foreach \a/\b in {conv/lMed2, lMed2/hidrol2, lMed2/isomer1, lMed2/oxid,
  lMed2/reduc, lMed2/ferment, lMed2/polienz, polienz/galoli,
  hidrol2/lTeniendo, lTeniendo/glugal, glugal/lPor4, lPor4/isomer2,
  isomer2/lObt2, lObt2/tagat, isomer1/lactul, lactul/lTiene5, lTiene5/funcion2,
  funcion2/tratam2, funcion2/indicad, tratam2/lContra, lContra/estren,
  indicad/lEn4, lEn4/uht, oxid/aclacto, reduc/lactitol, ferment/etanol,
  ferment/aclact, aclact/lMed3, lMed3/secado, lMed3/polimer, secado/lObt3,
  polimer/lObt3, lObt3/acpoli, acpoli/lEs8, lEs8/util2, util2/lPara3,
  lPara3/elabor, lPara3/polimero, problem/lDebido5, lDebido5/noser,
  noser/lPor5, lPor5/enzlact, enzlact/lEs9, lEs9/consum, consum/lProduc,
  lProduc/acgr2, lProduc/dioxido, acgr2/lDe7, lDe7/cadena, problem/lCausando,
  lCausando/sintom, sintom/lComo8, lComo8/diarrea, lComo8/flatul,
  lComo8/dolor, metan/lComo9, lComo9/metest, lComo9/fehling, lComo9/polari,
  metest/lTales2, lTales2/rphplc, lTales2/enzuv, fehling/lPor6,
  lPor6/reduclac, reduclac/lMed4, lMed4/cambio, polari/lPara4,
  lPara4/muestras}
  \draw (\a) -- (\b);
\foreach \a/\b in {prot/lSon4, molec/lFormadas, aminoac/lPrinc2, prot/anal3,
  anal3/hubA, prot/lFunc, prot/lEstruct, lEstruct/primaria, primaria/secund,
  secund/terciaria, terciaria/cuatern, prot/lPresentes2, lPresentes2/leche1,
  leche1/lSon5, lSon5/caseinas, secund/lClasif, lClasif/helices,
  caseinas/suero, caseinas/diferp, diferp/suero, diferp/lEn5, tabla/lConsec,
  lConsec/cnps, suero/albumina, suero/mfgmder, blg/lUnica, kcas/formac,
  formac/lVarph, lVarph/prevenir, agreg2/lSuperf, complet/lY, parcialm/lNohay,
  micelas/lOrganiz, lOrganiz/nohay, lOrganiz/condic, lOrganiz/cns,
  micelas/modelos, modelos/dalgl, micelas/estab, estab/hubE, hubE/estables,
  hubE/inestab, micelas/lCaract, consid/lComo10, lComo10/mecan,
  propied/lSon6, lSon6/tamanomic, estables/lNoagreg, lNoagreg/evapor,
  inestab/lAgregmic, lAgregmic/hidrolk, prot/lSepar, lSepar/tamforma,
  lSepar/electro, electro/lCampo, lCampo/difmig, prot/lEnzimas,
  lEnzimas/nativas, lEnzimas/exog, exog/proteasas, nativas/lHidrol,
  nativas/oxidor, nativas/animic, lHidrol/plasmina, lHidrol/lipasa,
  lHidrol/fosfat, animic/lactoper, oxidor/xantinox}
  \draw (\a) -- (\b);
\end{pgfonlayer}

\end{tikzpicture}
\end{document}
